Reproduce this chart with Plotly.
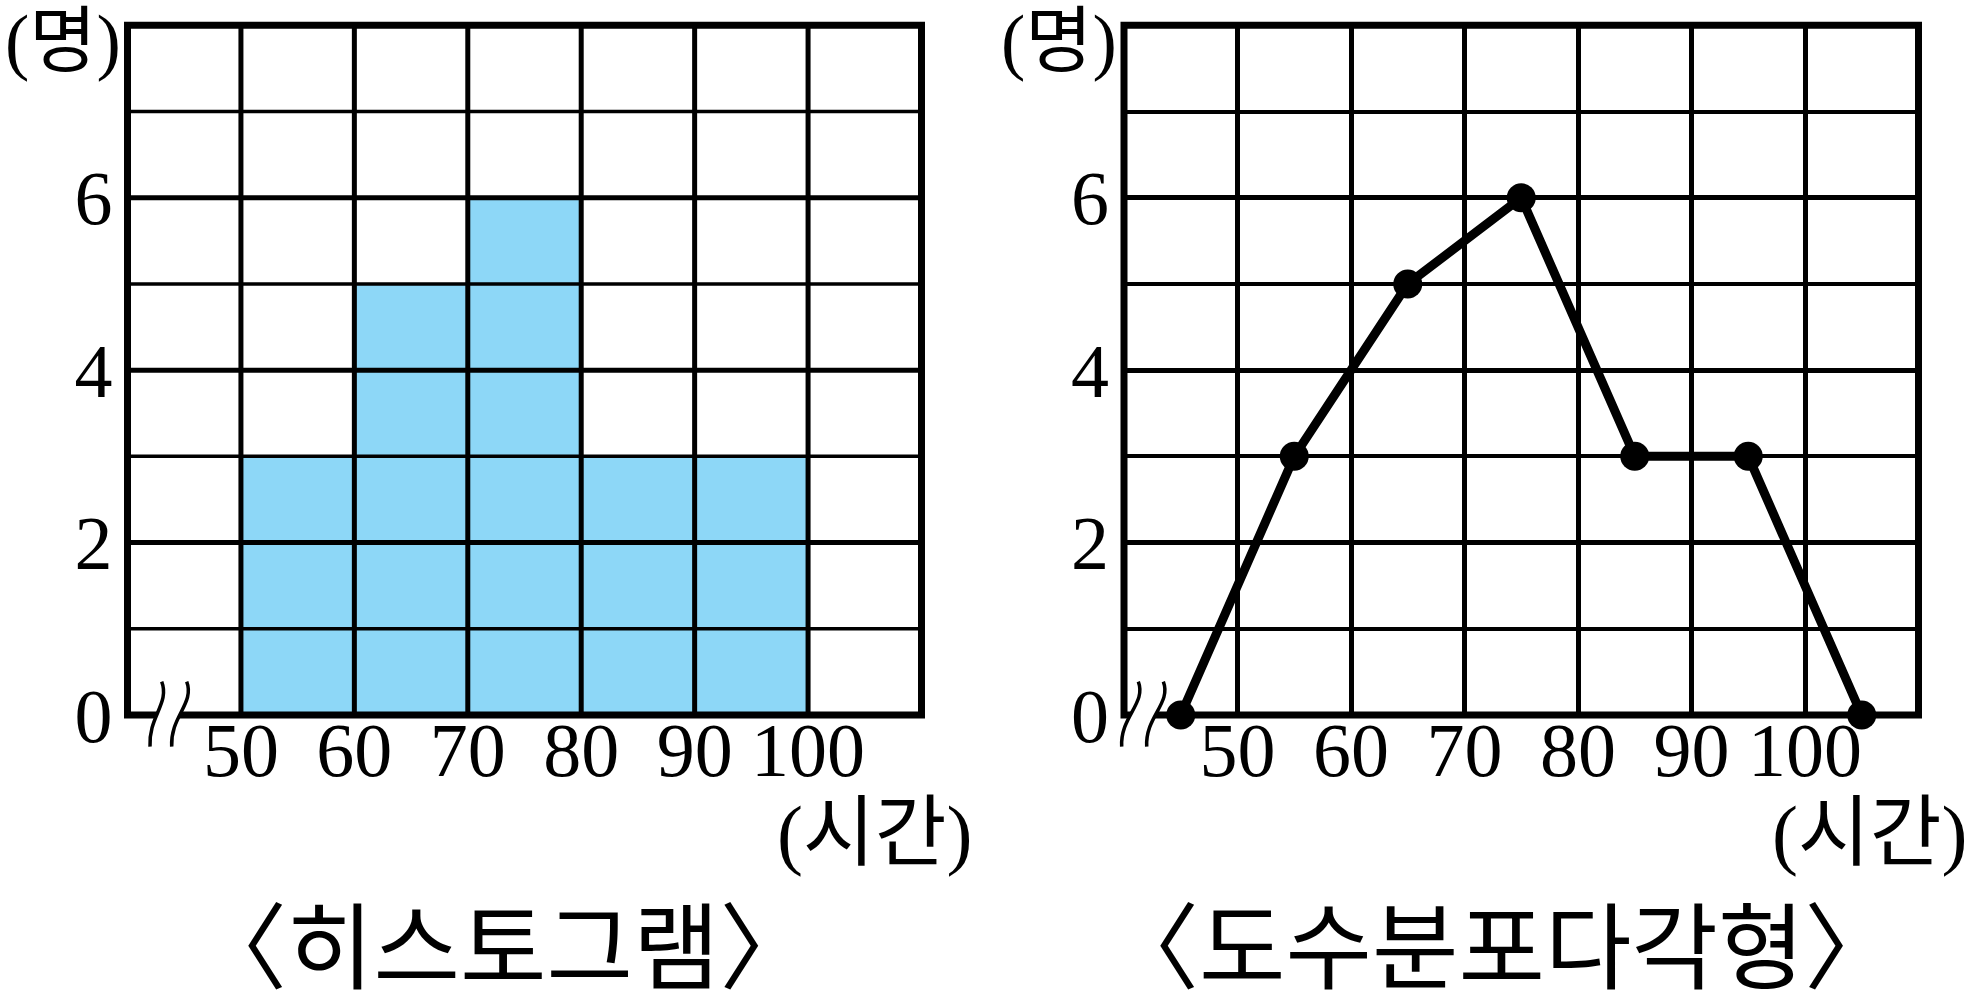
import plotly.graph_objects as go

# ---------------- data ----------------
class_lower = [50, 60, 70, 80, 90]          # 계급의 시작 (시간)
class_width = 10
frequencies = [3, 5, 6, 3, 3]               # 도수 (명)

poly_x = [45, 55, 65, 75, 85, 95, 105]      # 계급값 (양 끝 0 포함)
poly_y = [0, 3, 5, 6, 3, 3, 0]

x_tick_vals = [50, 60, 70, 80, 90, 100]
x_tick_text = ["50", "60", "70", "80", "90", "100"]
y_tick_vals = [0, 2, 4, 6]
y_tick_text = ["0", "2", "4", "6"]
y_minor_vals = [1, 3, 5, 7]

x_range = [40, 110]
y_range = [0, 8]

titles = ["〈히스토그램〉", "〈도수분포다각형〉"]
y_unit = "(명)"
x_unit = "(시간)"

# ---------------- layout geometry ----------------
W, H = 1970, 1008
def px(x):
    return x / W
def py(y):
    return 1 - y / H

left_dom = [px(127.5), px(921.5)]
right_dom = [px(1124), px(1918.5)]
y_dom = [py(715), py(25.3)]

BAR_COLOR = "#8DD7F7"
TICK_FONT = dict(family="Liberation Serif", size=76, color="black")
KO_FONT = "Liberation Serif, Noto Sans CJK KR"
MAJOR_W, MINOR_W = 5, 3.5

fig = go.Figure()

# histogram
bar_centers = [a + class_width / 2 for a in class_lower]
fig.add_trace(go.Bar(
    x=bar_centers, y=frequencies, width=[class_width] * len(frequencies),
    marker=dict(color=BAR_COLOR, line=dict(width=0)),
    xaxis="x", yaxis="y", showlegend=False, hoverinfo="skip",
))

# frequency polygon
fig.add_trace(go.Scatter(
    x=poly_x, y=poly_y, mode="lines+markers",
    line=dict(color="black", width=9),
    marker=dict(color="black", size=29),
    cliponaxis=False, xaxis="x2", yaxis="y2", showlegend=False,
))

def xaxis_cfg(dom, showgrid, anchor):
    return dict(
        domain=dom, range=x_range, tickvals=x_tick_vals, ticktext=x_tick_text,
        tickfont=TICK_FONT, showgrid=showgrid, gridcolor="black", gridwidth=MAJOR_W,
        zeroline=False, showline=False, ticks="", fixedrange=True, anchor=anchor,
        ticklabelstandoff=-16, automargin=False,
    )

def yaxis_cfg(dom, showgrid, anchor):
    return dict(
        domain=dom, range=y_range, tickvals=y_tick_vals, ticktext=y_tick_text,
        tickfont=TICK_FONT, showgrid=showgrid, gridcolor="black", gridwidth=MAJOR_W,
        minor=dict(tickvals=y_minor_vals, showgrid=showgrid, gridcolor="black", gridwidth=MINOR_W),
        zeroline=False, showline=False, ticks="", fixedrange=True, anchor=anchor,
        ticklabelstandoff=14, automargin=False,
    )

fig.update_layout(
    width=W, height=H, autosize=False, margin=dict(l=0, r=0, t=0, b=0, autoexpand=False),
    paper_bgcolor="white", plot_bgcolor="white",
    xaxis=xaxis_cfg(left_dom, False, "y"),
    yaxis=yaxis_cfg(y_dom, False, "x"),
    xaxis2=xaxis_cfg(right_dom, True, "y2"),
    yaxis2=yaxis_cfg(y_dom, True, "x2"),
    bargap=0,
)

shapes = []
# grid over histogram bars (left plot)
for xv in x_tick_vals:
    shapes.append(dict(type="line", xref="x", yref="y", x0=xv, x1=xv, y0=y_range[0], y1=y_range[1],
                       line=dict(color="black", width=MAJOR_W), layer="above"))
for yv in y_tick_vals:
    shapes.append(dict(type="line", xref="x", yref="y", x0=x_range[0], x1=x_range[1], y0=yv, y1=yv,
                       line=dict(color="black", width=MAJOR_W), layer="above"))
for yv in y_minor_vals:
    shapes.append(dict(type="line", xref="x", yref="y", x0=x_range[0], x1=x_range[1], y0=yv, y1=yv,
                       line=dict(color="black", width=MINOR_W), layer="above"))

# frames
for xa, ya in (("x", "y"), ("x2", "y2")):
    shapes.append(dict(type="rect", xref=xa + " domain", yref=ya + " domain", x0=0, x1=1, y0=0, y1=1,
                       line=dict(color="black", width=7), layer="above"))

# axis break marks near the origin
FW, FH = 794.0, 689.7
def brk(xa, ya, top1, bot1, top2, bot2):
    def f(p):
        return (p[0] / FW, -p[1] / FH)
    def curve(top, bot):
        c1 = (top[0] + 8.3, top[1] + 21.6)
        c2 = (bot[0] - 1.7, bot[1] - 30.0)
        return top, c1, c2, bot
    a = [f(p) for p in curve(top1, bot1)]
    b = [f(p) for p in curve(top2, bot2)]
    fmt = lambda p: "%.5f,%.5f" % p
    fill = ("M " + fmt(a[0]) + " C " + fmt(a[1]) + " " + fmt(a[2]) + " " + fmt(a[3]) +
            " L " + fmt(b[3]) + " C " + fmt(b[2]) + " " + fmt(b[1]) + " " + fmt(b[0]) + " Z")
    out = [dict(type="path", xref=xa + " domain", yref=ya + " domain", path=fill,
                fillcolor="white", line=dict(width=0), layer="above")]
    for c in (a, b):
        path = "M " + fmt(c[0]) + " C " + fmt(c[1]) + " " + fmt(c[2]) + " " + fmt(c[3])
        out.append(dict(type="path", xref=xa + " domain", yref=ya + " domain",
                        path=path, line=dict(color="black", width=3.5), layer="above"))
    return out

shapes += brk("x", "y", (34.2, -33.3), (22.5, 31.7), (59.2, -33.3), (44.2, 31.7))
shapes += brk("x2", "y2", (14.3, -33.3), (-2.3, 31.7), (39.3, -33.3), (22.7, 31.7))
fig.update_layout(shapes=shapes)

# texts
ann = []
def text(t, x, y, size):
    ann.append(dict(text=t, x=px(x), y=py(y), xref="paper", yref="paper", showarrow=False,
                    xanchor="center", yanchor="middle",
                    font=dict(family=KO_FONT, size=size, color="black")))

text(y_unit, 63, 42, 73)
text(y_unit, 1059, 42, 73)
text(x_unit, 874.5, 833, 78)
text(x_unit, 1869, 833, 78)
text(titles[0], 502.5, 950, 94)
text(titles[1], 1501.5, 950, 94)
fig.update_layout(annotations=ann)

fig.write_html("out.html", config={"displayModeBar": False, "responsive": False},
               post_script="document.body.style.margin='0';document.body.style.overflow='hidden';")
